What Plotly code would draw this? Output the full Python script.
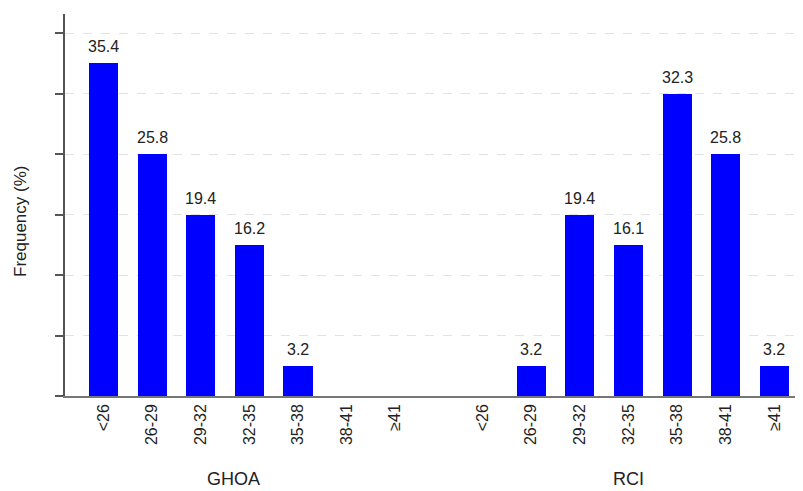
import plotly.graph_objects as go

# ---- data ----
categories = ["<26", "26-29", "29-32", "32-35", "35-38", "38-41", "≥41"]
groups = ["GHOA", "RCI"]
ghoa_counts = [11, 8, 6, 5, 1, 0, 0]
ghoa_labels = ["35.4", "25.8", "19.4", "16.2", "3.2", "", ""]
rci_counts = [0, 1, 6, 5, 10, 8, 1]
rci_labels = ["", "3.2", "19.4", "16.1", "32.3", "25.8", "3.2"]
y_title = "Frequency (%)"

# ---- layout helpers ----
group_offset = 7.8
ghoa_x = [i + 1 for i in range(len(categories))]
rci_x = [i + 1 + group_offset for i in range(len(categories))]

BLUE = "#0000FF"
FONT = "Liberation Sans, Arial, sans-serif"
PAGE_PAD = 8  # default body margin of the page

fig = go.Figure()
for xs, ys in ((ghoa_x, ghoa_counts), (rci_x, rci_counts)):
    fig.add_trace(go.Bar(x=xs, y=ys, width=0.6, marker=dict(color=BLUE, line=dict(width=0)),
                         showlegend=False, hoverinfo="skip"))

annotations = []
for xs, ys, labs in ((ghoa_x, ghoa_counts, ghoa_labels), (rci_x, rci_counts, rci_labels)):
    for x, y, t in zip(xs, ys, labs):
        if t:
            annotations.append(dict(x=x, y=y, text=t, showarrow=False, yanchor="bottom",
                                    yshift=6, font=dict(size=16, color="#222", family=FONT)))

# group labels
annotations.append(dict(x=ghoa_x[3] - 0.33, y=0, yref="paper", text=groups[0], showarrow=False,
                        yanchor="middle", yshift=-83, font=dict(size=18, color="#222", family=FONT)))
annotations.append(dict(x=rci_x[3], y=0, yref="paper", text=groups[1], showarrow=False,
                        yanchor="middle", yshift=-83, font=dict(size=18, color="#222", family=FONT)))
# y title
annotations.append(dict(x=0, xref="paper", y=0.5, yref="paper", text=y_title, showarrow=False,
                        textangle=-90, xanchor="center", yanchor="middle", xshift=-45, yshift=-17,
                        font=dict(size=17, color="#222", family=FONT)))

fig.update_layout(
    width=803 - PAGE_PAD, height=491 - PAGE_PAD,
    margin=dict(l=65 - PAGE_PAD, r=0, t=14 - PAGE_PAD, b=95, autoexpand=False),
    paper_bgcolor="white", plot_bgcolor="white",
    annotations=annotations,
    bargap=0,
    xaxis=dict(
        range=[0.208, 15.39],
        tickmode="array",
        tickvals=ghoa_x + rci_x,
        ticktext=categories + categories,
        tickangle=-90,
        tickfont=dict(size=16, color="#222", family=FONT),
        showline=True, linecolor="#777", linewidth=1.5,
        ticks="", showgrid=False, zeroline=False, automargin=False,
    ),
    yaxis=dict(
        range=[0, 12.63],
        tickmode="array",
        tickvals=[0, 2, 4, 6, 8, 10, 12],
        showticklabels=False,
        ticks="outside", ticklen=8, tickcolor="#555", tickwidth=1.5,
        showline=True, linecolor="#555", linewidth=1.5,
        showgrid=True, gridcolor="#e2e2e2", griddash="dash", gridwidth=1,
        zeroline=False, automargin=False,
    ),
)

fig.write_html("out.html")
